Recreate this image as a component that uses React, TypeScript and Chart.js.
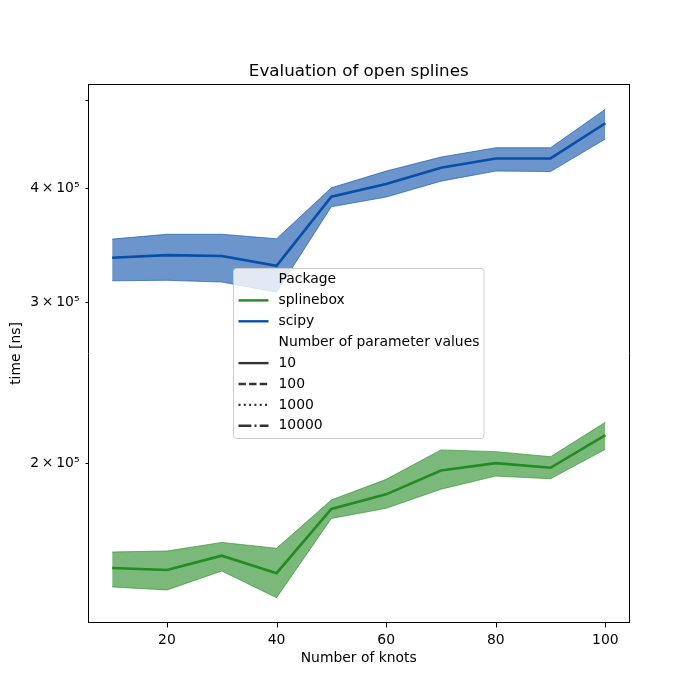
import React, { useEffect, useRef } from "react";
import { Chart, registerables } from "chart.js";

Chart.register(...registerables);

const knots = [10, 20, 30, 40, 50, 60, 70, 80, 90, 100];
const splineboxMean = [153500, 152700, 158300, 151500, 178100, 184800, 196200, 199900, 197600, 214600];
const splineboxUpper = [159800, 160200, 163700, 161300, 182200, 191900, 206700, 205800, 203200, 221600];
const splineboxLower = [146300, 145200, 152300, 142400, 173900, 178400, 187200, 193500, 192200, 207000];
const scipyMean = [335500, 337800, 337000, 328800, 391300, 404000, 421000, 431000, 431000, 471000];
const scipyUpper = [351700, 356000, 356000, 352000, 400300, 417500, 432500, 442800, 442800, 488000];
const scipyLower = [316600, 317000, 315600, 307600, 381600, 391000, 407000, 417500, 417000, 452600];

const xTicks = [20, 40, 60, 80, 100];
const yTicks = [200000, 300000, 400000, 500000];
const yTickLabels = ["2\u2009×\u200910⁵", "3\u2009×\u200910⁵", "4\u2009×\u200910⁵", ""];

const titleText = "Evaluation of open splines";
const xTitle = "Number of knots";
const yTitle = "time [ns]";

const GREEN = "rgb(34,139,34)";
const GREEN_FILL = "rgba(34,139,34,0.6)";
const BLUE = "rgb(8,78,168)";
const BLUE_FILL = "rgba(8,78,168,0.6)";
const GREY = "#333333";

const legendEntries = [
  { label: "Package", color: null as string | null, dash: [] as number[] },
  { label: "splinebox", color: GREEN, dash: [] },
  { label: "scipy", color: BLUE, dash: [] },
  { label: "Number of parameter values", color: null, dash: [] },
  { label: "10", color: GREY, dash: [] },
  { label: "100", color: GREY, dash: [7.4, 3.2] },
  { label: "1000", color: GREY, dash: [2, 3.3] },
  { label: "10000", color: GREY, dash: [12.8, 3.2, 2, 3.2] },
];

const FONT = "'DejaVu Sans', sans-serif";

const pts = (ys: number[]) => knots.map((x, i) => ({ x, y: ys[i] }));

const overlayPlugin = {
  id: "overlay",
  afterDraw(chart: any) {
    const { ctx, chartArea: a, scales } = chart;
    const L = Math.round(a.left) + 0.5;
    const R = Math.round(a.right) - 0.5;
    const T = Math.round(a.top) + 0.5;
    const B = Math.round(a.bottom) - 0.5;
    ctx.save();
    // clear stray marks below the frame corner
    ctx.fillStyle = "#fff";
    ctx.fillRect(L - 6, B + 1, 12, 9);

    ctx.strokeStyle = "#000";
    ctx.lineWidth = 1;
    ctx.beginPath();
    ctx.moveTo(L - 0.5, T); ctx.lineTo(R + 0.5, T);
    ctx.moveTo(R, T - 0.5); ctx.lineTo(R, B + 0.5);
    ctx.moveTo(R + 0.5, B); ctx.lineTo(L - 0.5, B);
    ctx.moveTo(L, B + 0.5); ctx.lineTo(L, T - 0.5);
    ctx.stroke();
    ctx.beginPath();
    xTicks.forEach((v) => {
      const px = Math.round(scales.x.getPixelForValue(v)) + 0.5;
      ctx.moveTo(px, B);
      ctx.lineTo(px, B + 5);
    });
    yTicks.forEach((v) => {
      const py = Math.round(scales.y.getPixelForValue(v)) + 0.5;
      ctx.moveTo(L - 3, py);
      ctx.lineTo(L, py);
    });
    ctx.stroke();

    ctx.fillStyle = "#000";
    ctx.font = `16.7px ${FONT}`;
    ctx.textAlign = "center";
    ctx.textBaseline = "alphabetic";
    ctx.fillText(titleText, (a.left + a.right) / 2, a.top - 8.5);

    const bx = 233.5, by = 268.5, bw = 250.5, bh = 170;
    const r = 3;
    ctx.beginPath();
    ctx.moveTo(bx + r, by);
    ctx.lineTo(bx + bw - r, by);
    ctx.quadraticCurveTo(bx + bw, by, bx + bw, by + r);
    ctx.lineTo(bx + bw, by + bh - r);
    ctx.quadraticCurveTo(bx + bw, by + bh, bx + bw - r, by + bh);
    ctx.lineTo(bx + r, by + bh);
    ctx.quadraticCurveTo(bx, by + bh, bx, by + bh - r);
    ctx.lineTo(bx, by + r);
    ctx.quadraticCurveTo(bx, by, bx + r, by);
    ctx.closePath();
    ctx.fillStyle = "rgba(255,255,255,0.8)";
    ctx.fill();
    ctx.strokeStyle = "#cccccc";
    ctx.lineWidth = 1;
    ctx.stroke();

    ctx.font = `13.9px ${FONT}`;
    ctx.textAlign = "left";
    ctx.textBaseline = "middle";
    legendEntries.forEach((e, i) => {
      const y = 279.5 + i * 20.9;
      if (e.color) {
        ctx.strokeStyle = e.color;
        ctx.lineWidth = 2.4;
        ctx.setLineDash(e.dash);
        ctx.beginPath();
        ctx.moveTo(238.5, y);
        ctx.lineTo(268.5, y);
        ctx.stroke();
        ctx.setLineDash([]);
      }
      ctx.fillStyle = "#000";
      ctx.fillText(e.label, 278.5, y);
    });
    ctx.restore();
  },
};

export default function App() {
  const ref = useRef<HTMLCanvasElement | null>(null);
  useEffect(() => {
    document.body.style.margin = "0";
    const canvas = ref.current!;
    const bandLine = { pointRadius: 0, borderWidth: 1, tension: 0 };
    const chart = new Chart(canvas, {
      type: "line",
      data: {
        datasets: [
          { label: "scipy", data: pts(scipyMean), borderColor: BLUE, borderWidth: 2.6, pointRadius: 0, fill: false },
          { label: "scipy-up", data: pts(scipyUpper), borderColor: BLUE_FILL, fill: false, ...bandLine },
          { label: "scipy-lo", data: pts(scipyLower), borderColor: BLUE_FILL, backgroundColor: BLUE_FILL, fill: "-1", ...bandLine },
          { label: "splinebox", data: pts(splineboxMean), borderColor: GREEN, borderWidth: 2.6, pointRadius: 0, fill: false },
          { label: "sb-up", data: pts(splineboxUpper), borderColor: GREEN_FILL, fill: false, ...bandLine },
          { label: "sb-lo", data: pts(splineboxLower), borderColor: GREEN_FILL, backgroundColor: GREEN_FILL, fill: "-1", ...bandLine },
        ],
      },
      options: {
        animation: false,
        responsive: false,
        devicePixelRatio: 1,
        layout: { padding: { top: 84, right: 70, left: 0, bottom: 0 } },
        plugins: { legend: { display: false }, tooltip: { enabled: false }, title: { display: false } },
        scales: {
          x: {
            type: "linear",
            min: 5.5,
            max: 104.5,
            afterFit: (s: any) => { s.height = 77; },
            afterBuildTicks: (s: any) => { s.ticks = xTicks.map((v) => ({ value: v })); },
            grid: { display: false, drawOnChartArea: false, drawTicks: false },
            border: { display: false },
            ticks: { color: "#000", font: { family: FONT, size: 13.9 }, padding: 9, maxRotation: 0, autoSkip: false, callback: (v: any) => String(v) },
            title: { display: true, text: xTitle, color: "#000", font: { family: FONT, size: 13.9 }, padding: { top: 0, bottom: 33.6 } },
          },
          y: {
            type: "logarithmic",
            min: 133600,
            max: 520000,
            afterFit: (s: any) => { s.width = 87.5; },
            afterBuildTicks: (s: any) => { s.ticks = yTicks.map((v) => ({ value: v })); },
            grid: { display: false, drawOnChartArea: false, drawTicks: false },
            border: { display: false },
            ticks: {
              color: "#000",
              font: { family: FONT, size: 13.9 },
              padding: 8,
              autoSkip: false,
              callback: (v: any) => {
                const i = yTicks.indexOf(Number(v));
                return i >= 0 ? yTickLabels[i] : "";
              },
            },
            title: { display: true, text: yTitle, color: "#000", font: { family: FONT, size: 13.9 }, padding: { top: 8, bottom: 0 } },
          },
        },
      },
      plugins: [overlayPlugin],
    } as any);
    return () => chart.destroy();
  }, []);
  return <canvas ref={ref} width={700} height={700} style={{ display: "block" }} />;
}
